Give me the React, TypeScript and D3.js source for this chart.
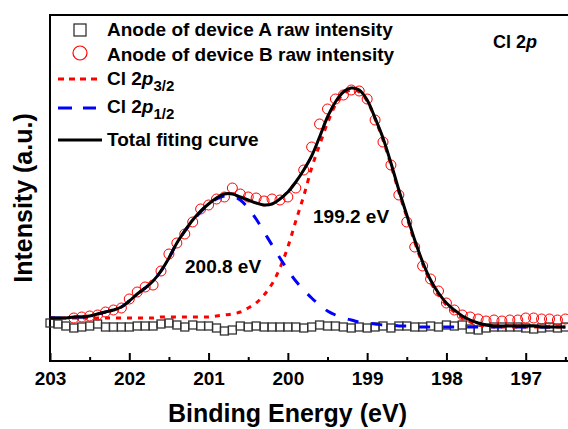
import { useEffect, useRef } from "react";
import * as d3 from "d3";

// binding energy grid of the fit curves and of device A (eV)
const energy = [
  203.0, 202.9, 202.8, 202.7, 202.6, 202.5, 202.4, 202.3, 202.2, 202.1,
  202.0, 201.9, 201.8, 201.7, 201.6, 201.5, 201.4, 201.3, 201.2, 201.1,
  201.0, 200.9, 200.8, 200.7, 200.6, 200.5, 200.4, 200.3, 200.2, 200.1,
  200.0, 199.9, 199.8, 199.7, 199.6, 199.5, 199.4, 199.3, 199.2, 199.1,
  199.0, 198.9, 198.8, 198.7, 198.6, 198.5, 198.4, 198.3, 198.2, 198.1,
  198.0, 197.9, 197.8, 197.7, 197.6, 197.5, 197.4, 197.3, 197.2, 197.1,
  197.0, 196.9, 196.8, 196.7, 196.6, 196.5,
];

// anode of device A, raw intensity (a.u.)
const deviceA = [
  380, 370, 350, 330, 340, 350, 370, 340, 340, 340, 340, 350, 350, 350, 370,
  380, 360, 340, 360, 350, 350, 330, 300, 310,
  350, 340, 350, 340, 340, 340, 340, 340, 330, 340, 360, 350, 350, 340, 330,
  340, 330, 340, 350, 330, 350, 350, 340,
  340, 350, 340, 360, 350, 360, 320, 310, 330, 340, 340, 340, 340, 330, 320,
  330, 340, 330, 340,
];

// anode of device B starts at 202.7 eV
const energyB = energy.slice(3);
const deviceB = [
  430, 440, 450, 460, 490, 510, 530, 620, 690, 740,
  760, 900, 1070, 1180, 1270, 1390, 1520, 1560, 1620, 1640,
  1730, 1670, 1640, 1630, 1600, 1620, 1610, 1640, 1730, 1910,
  2140, 2370, 2520, 2620, 2660, 2710, 2700, 2620, 2410, 2190,
  1960, 1660, 1390, 1140, 950, 820, 700, 580, 510, 460,
  440, 420, 400, 410, 400, 410, 410, 430, 430, 420,
  420, 410, 420,
];

// fitted components
const fitP32 = [
  430, 430, 430, 430, 430, 430, 430, 430, 430, 430,
  430, 430, 430, 430, 440, 440, 440, 440, 440, 440,
  440, 450, 460, 470, 490, 530, 580, 660, 770, 930,
  1140, 1400, 1650, 1930, 2160, 2380, 2560, 2670, 2710, 2690,
  2600, 2420, 2210, 1960, 1690, 1440, 1190, 970, 790, 660,
  560, 490, 430, 390, 360, 350, 340, 340, 340, 340,
  340, 340, 340, 340, 340, 340,
];
const fitP12 = [
  430, 430, 430, 440, 440, 450, 470, 490, 510, 540,
  600, 670, 730, 800, 900, 1030, 1180, 1300, 1400, 1490,
  1560, 1620, 1650, 1650, 1610, 1530, 1420, 1290, 1160, 1030,
  910, 800, 710, 630, 560, 500, 460, 430, 410, 390,
  380, 370, 360, 360, 350, 350, 340, 340, 340, 340,
  340, 340, 340, 340, 340, 340, 340, 340, 340, 340,
  340, 340, 340, 340, 340, 340,
];
const fitTotal = [
  430, 430, 430, 440, 440, 450, 470, 490, 510, 540,
  600, 670, 730, 800, 900, 1030, 1180, 1300, 1410, 1500,
  1570, 1630, 1670, 1670, 1640, 1610, 1580, 1560, 1570, 1620,
  1690, 1790, 1910, 2050, 2240, 2440, 2590, 2690, 2730, 2710,
  2610, 2430, 2230, 1980, 1710, 1460, 1210, 990, 810, 680,
  580, 510, 450, 410, 380, 360, 350, 350, 350, 350,
  350, 350, 340, 340, 340, 340,
];

const majorTicks = [203, 202, 201, 200, 199, 198, 197];
const minorTicks = [202.5, 201.5, 200.5, 199.5, 198.5, 197.5, 196.5];

const FONT = "'Liberation Sans', Arial, Helvetica, sans-serif";

export default function App() {
  const ref = useRef<SVGSVGElement | null>(null);

  useEffect(() => {
    const svg = d3.select(ref.current);
    svg.selectAll("*").remove();

    const left = 50, top = 15, bottom = 361, right = 605;

    const x = d3.scaleLinear().domain([203, 196]).range([left, right]);
    const y = d3.scaleLinear().domain([0, 3460]).range([bottom, top]);

    // frame
    svg.append("path")
      .attr("d", `M${right},${top}H${left}V${bottom}H${right}`)
      .attr("fill", "none")
      .attr("stroke", "#000")
      .attr("stroke-width", 2);

    // x axis, ticks pointing inward
    const gx = svg.append("g").attr("transform", `translate(0,${bottom})`);
    gx.call(
      d3.axisBottom(x).tickValues(majorTicks).tickSizeInner(-8).tickSizeOuter(0)
        .tickPadding(11).tickFormat(d3.format("d"))
    );
    gx.select(".domain").remove();
    gx.selectAll("line").attr("stroke-width", 2);
    gx.selectAll("text")
      .attr("font-family", FONT)
      .attr("font-size", 19)
      .attr("font-weight", "bold")
      .attr("fill", "#000");

    const gm = svg.append("g").attr("transform", `translate(0,${bottom})`);
    gm.call(d3.axisBottom(x).tickValues(minorTicks).tickSize(-4).tickFormat(() => ""));
    gm.select(".domain").remove();
    gm.selectAll("line").attr("stroke-width", 2);

    // device A squares
    svg.append("g")
      .selectAll("rect")
      .data(deviceA)
      .join("rect")
      .attr("x", (d, i) => x(energy[i]) - 4)
      .attr("y", (d) => y(d) - 4)
      .attr("width", 8)
      .attr("height", 8)
      .attr("fill", "none")
      .attr("stroke", "#333")
      .attr("stroke-width", 1.3);

    // device B circles
    svg.append("g")
      .selectAll("circle")
      .data(deviceB)
      .join("circle")
      .attr("cx", (d, i) => x(energyB[i]))
      .attr("cy", (d) => y(d))
      .attr("r", 5)
      .attr("fill", "none")
      .attr("stroke", "#ff0000")
      .attr("stroke-width", 1);

    const line = d3.line<number>()
      .x((d, i) => x(energy[i]))
      .y((d) => y(d))
      .curve(d3.curveCatmullRom);

    svg.append("path")
      .attr("d", line(fitP32))
      .attr("fill", "none")
      .attr("stroke", "#ff0000")
      .attr("stroke-width", 3)
      .attr("stroke-dasharray", "5,6");

    svg.append("path")
      .attr("d", line(fitP12))
      .attr("fill", "none")
      .attr("stroke", "#0000ff")
      .attr("stroke-width", 3)
      .attr("stroke-dasharray", "11,13");

    svg.append("path")
      .attr("d", line(fitTotal))
      .attr("fill", "none")
      .attr("stroke", "#000")
      .attr("stroke-width", 3);

    // axis titles
    svg.append("text")
      .attr("x", (left + 525) / 2)
      .attr("y", 422)
      .attr("text-anchor", "middle")
      .attr("font-family", FONT)
      .attr("font-size", 25)
      .attr("font-weight", "bold")
      .text("Binding Energy (eV)");

    svg.append("text")
      .attr("transform", "translate(32,198) rotate(-90)")
      .attr("text-anchor", "middle")
      .attr("font-family", FONT)
      .attr("font-size", 25)
      .attr("font-weight", "bold")
      .text("Intensity (a.u.)");

    // legend
    const lg = svg.append("g")
      .attr("font-family", FONT)
      .attr("font-size", 19)
      .attr("font-weight", "bold");

    lg.append("rect").attr("x", 74).attr("y", 24).attr("width", 12).attr("height", 12)
      .attr("fill", "none").attr("stroke", "#333").attr("stroke-width", 1.3);
    lg.append("circle").attr("cx", 80).attr("cy", 53).attr("r", 7)
      .attr("fill", "none").attr("stroke", "#ff0000").attr("stroke-width", 1.2);
    lg.append("line").attr("x1", 58).attr("x2", 100).attr("y1", 79).attr("y2", 79)
      .attr("stroke", "#ff0000").attr("stroke-width", 3).attr("stroke-dasharray", "6,5");
    lg.append("line").attr("x1", 58).attr("x2", 96).attr("y1", 108).attr("y2", 108)
      .attr("stroke", "#0000ff").attr("stroke-width", 3).attr("stroke-dasharray", "14,11");
    lg.append("line").attr("x1", 58).attr("x2", 102).attr("y1", 140).attr("y2", 140)
      .attr("stroke", "#000").attr("stroke-width", 3);

    lg.append("text").attr("x", 107).attr("y", 36).text("Anode of device A raw intensity");
    lg.append("text").attr("x", 107).attr("y", 61).text("Anode of device B raw intensity");

    const t3 = lg.append("text").attr("x", 107).attr("y", 85);
    t3.append("tspan").text("Cl 2");
    t3.append("tspan").attr("font-style", "italic").text("p");
    t3.append("tspan").attr("font-size", 15).attr("dy", 6).text("3/2");

    const t4 = lg.append("text").attr("x", 107).attr("y", 113);
    t4.append("tspan").text("Cl 2");
    t4.append("tspan").attr("font-style", "italic").text("p");
    t4.append("tspan").attr("font-size", 15).attr("dy", 6).text("1/2");

    lg.append("text").attr("x", 107).attr("y", 146).text("Total fiting curve");

    // annotations
    const ta = svg.append("text")
      .attr("x", 493).attr("y", 48)
      .attr("font-family", FONT).attr("font-size", 18).attr("font-weight", "bold");
    ta.append("tspan").text("Cl 2");
    ta.append("tspan").attr("font-style", "italic").text("p");

    svg.append("text")
      .attr("x", 185).attr("y", 273)
      .attr("font-family", FONT).attr("font-size", 19).attr("font-weight", "bold")
      .text("200.8 eV");
    svg.append("text")
      .attr("x", 313).attr("y", 223)
      .attr("font-family", FONT).attr("font-size", 19).attr("font-weight", "bold")
      .text("199.2 eV");
  }, []);

  return (
    <svg
      ref={ref}
      width={568}
      height={429}
      style={{ position: "absolute", left: 0, top: 0, background: "#fff" }}
    />
  );
}
